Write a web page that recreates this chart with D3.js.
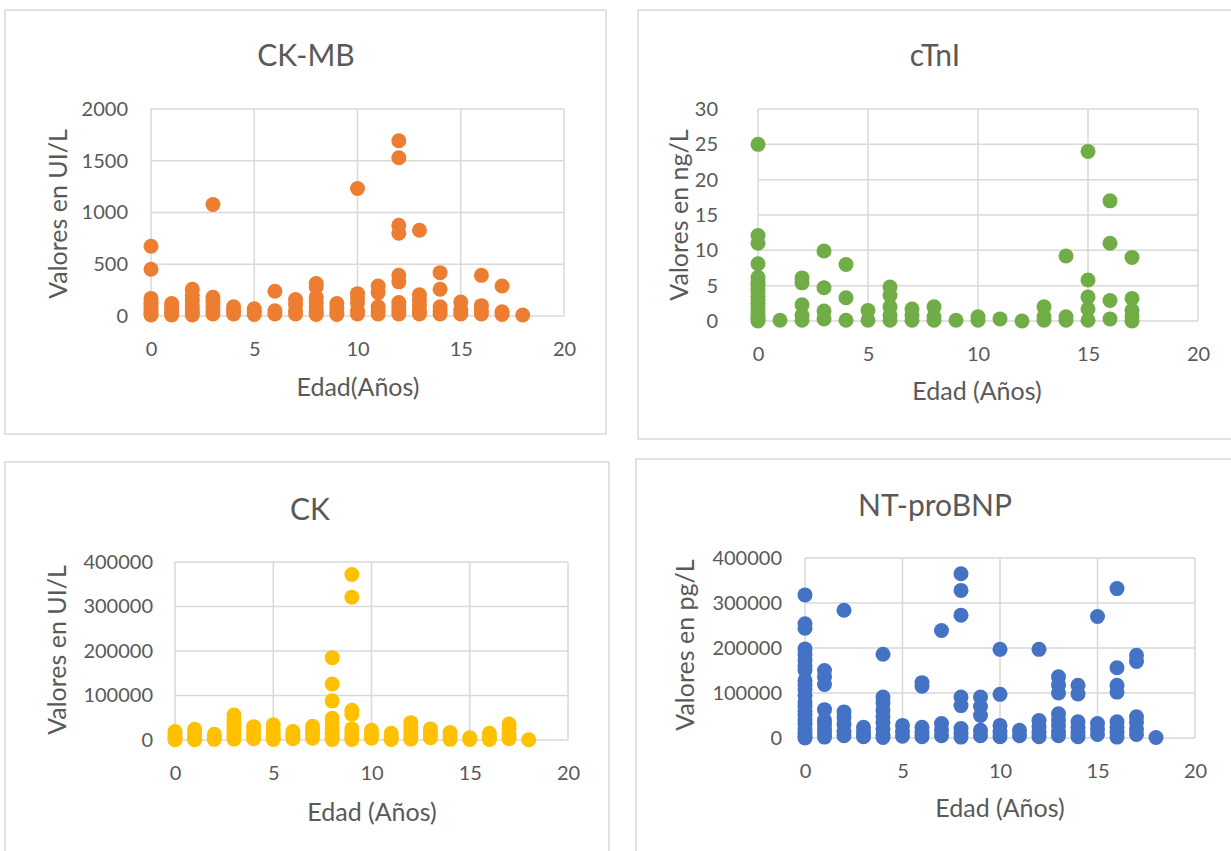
<!DOCTYPE html>
<html>
<head>
<meta charset="utf-8">
<script src="https://cdn.jsdelivr.net/npm/d3@7"></script>
<style>
  body { margin: 0; background: #fff; }
  svg { display: block; }
  text { font-family: Lato, "Open Sans", sans-serif; fill: #595959; }
</style>
</head>
<body>
<svg width="1231" height="851"></svg>
<script>
// values per age: [age, [values...]]
var ckmbData = [
    [0, [674, 452, 170, 130, 100, 70, 40, 20, 10]],
    [1, [120, 90, 60, 30, 10]],
    [2, [258, 200, 150, 100, 60, 30, 10]],
    [3, [1077, 180, 140, 90, 50, 20]],
    [4, [90, 50, 20]],
    [5, [70, 40, 15]],
    [6, [239, 50, 20]],
    [7, [160, 110, 50, 20]],
    [8, [313, 280, 180, 130, 80, 40, 15]],
    [9, [120, 80, 40, 15]],
    [10, [1232, 216, 170, 120, 50, 20]],
    [11, [290, 226, 90, 50, 20]],
    [12, [1693, 1529, 877, 800, 393, 330, 130, 90, 50, 20]],
    [13, [829, 206, 150, 100, 50, 20]],
    [14, [419, 258, 90, 50, 20]],
    [15, [135, 60, 20]],
    [16, [393, 100, 50, 20]],
    [17, [290, 40, 15]],
    [18, [10]]
];

var ctniData = [
    [0, [25, 12.1, 11, 8.1, 6.2, 5.5, 5, 4.5, 4, 3.5, 3, 2.5, 2, 1.5, 1, 0.5, 0.2, 0]],
    [1, [0.1]],
    [2, [6.1, 5.4, 2.3, 0.8, 0.1]],
    [3, [9.9, 4.7, 1.4, 0.3]],
    [4, [8, 3.3, 0.1]],
    [5, [1.5, 0.1]],
    [6, [4.8, 3.6, 2, 0.8, 0.1]],
    [7, [1.7, 0.8, 0.1]],
    [8, [2, 0.6, 0.1]],
    [9, [0.1]],
    [10, [0.6, 0.1]],
    [11, [0.3]],
    [12, [0]],
    [13, [2, 0.6, 0.1]],
    [14, [9.2, 0.6, 0.1]],
    [15, [24, 5.8, 3.4, 1.7, 0.1]],
    [16, [17, 11, 2.9, 0.3]],
    [17, [9, 3.2, 1.5, 0.6, 0]]
];

var ckData = [
    [0, [19000, 12000, 6000, 2000, 500]],
    [1, [24000, 16000, 9000, 3000, 800]],
    [2, [13000, 6000, 1500]],
    [3, [56000, 45000, 35000, 25000, 15000, 8000, 2000]],
    [4, [30000, 20000, 10000, 3000]],
    [5, [34000, 24000, 14000, 5000, 1000]],
    [6, [19000, 10000, 3000]],
    [7, [31000, 22000, 12000, 4000]],
    [8, [185000, 126000, 88000, 49000, 38000, 25000, 15000, 6000, 1000]],
    [9, [372000, 321000, 67000, 58000, 25000, 15000, 6000, 1000]],
    [10, [22000, 12000, 4000]],
    [11, [15000, 6000, 1000]],
    [12, [39000, 28000, 17000, 8000, 2000]],
    [13, [25000, 15000, 5000]],
    [14, [17000, 8000, 1500]],
    [15, [5000, 1000]],
    [16, [15000, 6000, 1000]],
    [17, [36000, 26000, 12000, 3000]],
    [18, [500]]
];

var ntprobnpData = [
    [0, [318000, 254000, 244000, 198000, 185000, 172000, 160000, 150000, 128000, 118000, 108000, 95000,
         80000, 70000, 60000, 50000, 40000, 30000, 20000, 10000, 3000, 0]],
    [1, [150000, 136000, 119000, 63000, 40000, 30000, 20000, 10000, 2000]],
    [2, [284000, 58000, 45000, 30000, 15000, 5000]],
    [3, [24000, 12000, 3000]],
    [4, [186000, 91000, 78000, 62000, 48000, 35000, 20000, 8000, 1000]],
    [5, [28000, 15000, 4000]],
    [6, [123000, 115000, 24000, 12000, 3000]],
    [7, [239000, 32000, 18000, 5000]],
    [8, [365000, 328000, 273000, 91000, 72000, 21000, 10000, 2000]],
    [9, [91000, 70000, 50000, 17000, 5000]],
    [10, [197000, 97000, 28000, 15000, 3000]],
    [11, [17000, 5000]],
    [12, [197000, 39000, 25000, 12000, 3000]],
    [13, [136000, 118000, 100000, 54000, 40000, 28000, 15000, 5000]],
    [14, [117000, 98000, 36000, 24000, 12000, 3000]],
    [15, [270000, 32000, 20000, 8000]],
    [16, [332000, 156000, 117000, 102000, 36000, 24000, 12000, 2000]],
    [17, [184000, 170000, 47000, 35000, 20000, 8000]],
    [18, [1000]]
];

var xTicks = [0, 5, 10, 15, 20];
var ckmbTicks = [0, 500, 1000, 1500, 2000];
var ctniTicks = [0, 5, 10, 15, 20, 25, 30];
var bigTicks = [0, 100000, 200000, 300000, 400000];

var svg = d3.select("svg");

function flatten(data) {
    var pts = [];
    data.forEach(function (g) {
        g[1].forEach(function (v) {
            pts.push({age: g[0], value: v});
        });
    });
    return pts;
}

function drawPanel(p) {
    var g = svg.append("g");

    // chart frame
    g.append("rect")
        .attr("x", p.box[0])
        .attr("y", p.box[1])
        .attr("width", p.box[2] - p.box[0])
        .attr("height", p.box[3] - p.box[1])
        .attr("fill", "#fff")
        .attr("stroke", "#d9d9d9")
        .attr("stroke-width", 1.5);

    var xScale = d3.scaleLinear().domain([0, 20]).range([p.plot[0], p.plot[2]]);
    var yScale = d3.scaleLinear().domain([0, p.yMax]).range([p.plot[3], p.plot[1]]);

    // gridlines
    g.selectAll(".hgrid")
        .data(p.yTicks)
        .enter()
        .append("line")
        .attr("x1", p.plot[0])
        .attr("x2", p.plot[2])
        .attr("y1", function (d) { return yScale(d); })
        .attr("y2", function (d) { return yScale(d); })
        .attr("stroke", "#d9d9d9")
        .attr("stroke-width", 1.5);

    g.selectAll(".vgrid")
        .data(xTicks)
        .enter()
        .append("line")
        .attr("y1", p.plot[1])
        .attr("y2", p.plot[3])
        .attr("x1", function (d) { return xScale(d); })
        .attr("x2", function (d) { return xScale(d); })
        .attr("stroke", "#d9d9d9")
        .attr("stroke-width", 1.5);

    // axes (labels only, Excel style)
    var yAxis = d3.axisLeft(yScale)
        .tickValues(p.yTicks)
        .tickSize(0)
        .tickPadding(p.plot[0] - p.yLabelRight)
        .tickFormat(d3.format("d"));
    var yg = g.append("g")
        .attr("transform", "translate(" + p.plot[0] + ",0)")
        .call(yAxis);

    var xAxis = d3.axisBottom(xScale)
        .tickValues(xTicks)
        .tickSize(0)
        .tickPadding(p.xTickPad)
        .tickFormat(d3.format("d"));
    var xg = g.append("g")
        .attr("transform", "translate(0," + p.plot[3] + ")")
        .call(xAxis);

    [yg, xg].forEach(function (a) {
        a.select(".domain").remove();
        a.selectAll("text")
            .attr("fill", "#595959")
            .style("font-size", "20px");
    });

    // points
    g.selectAll("circle")
        .data(flatten(p.data))
        .enter()
        .append("circle")
        .attr("cx", function (d) { return xScale(d.age); })
        .attr("cy", function (d) { return yScale(d.value); })
        .attr("r", 7.5)
        .attr("fill", p.color);

    // titles
    g.append("text")
        .attr("x", p.title[1])
        .attr("y", p.title[2])
        .attr("text-anchor", "middle")
        .style("font-size", "30px")
        .text(p.title[0]);

    g.append("text")
        .attr("x", p.xTitle[1])
        .attr("y", p.xTitle[2])
        .attr("text-anchor", "middle")
        .style("font-size", "25px")
        .text(p.xTitle[0]);

    g.append("text")
        .attr("transform", "translate(" + p.yTitle[1] + "," + p.yTitle[2] + ") rotate(-90)")
        .attr("text-anchor", "middle")
        .attr("dy", "0.35em")
        .style("font-size", "25px")
        .text(p.yTitle[0]);
}

drawPanel({
    box: [5, 10, 606, 434],
    plot: [151, 109, 564, 316],
    yMax: 2000, yTicks: ckmbTicks, yLabelRight: 128, xTickPad: 26,
    data: ckmbData, color: "#ED7D31",
    title: ["CK-MB", 306, 66],
    xTitle: ["Edad(Años)", 358, 396],
    yTitle: ["Valores en UI/L", 58, 214]
});

drawPanel({
    box: [638, 10, 1240, 439],
    plot: [758, 109, 1198, 321],
    yMax: 30, yTicks: ctniTicks, yLabelRight: 718, xTickPad: 26,
    data: ctniData, color: "#70AD47",
    title: ["cTnI", 935, 66],
    xTitle: ["Edad (Años)", 977, 400],
    yTitle: ["Valores en ng/L", 679, 215]
});

drawPanel({
    box: [5, 462, 609, 860],
    plot: [175, 562, 568, 740],
    yMax: 400000, yTicks: bigTicks, yLabelRight: 153, xTickPad: 26,
    data: ckData, color: "#FFC000",
    title: ["CK", 310, 520],
    xTitle: ["Edad (Años)", 372, 821],
    yTitle: ["Valores en UI/L", 57, 650]
});

drawPanel({
    box: [636, 459, 1240, 860],
    plot: [805, 558, 1195, 738],
    yMax: 400000, yTicks: bigTicks, yLabelRight: 782, xTickPad: 26,
    data: ntprobnpData, color: "#4472C4",
    title: ["NT-proBNP", 935, 516],
    xTitle: ["Edad (Años)", 1000, 817],
    yTitle: ["Valores en pg/L", 685, 645]
});
</script>
</body>
</html>
